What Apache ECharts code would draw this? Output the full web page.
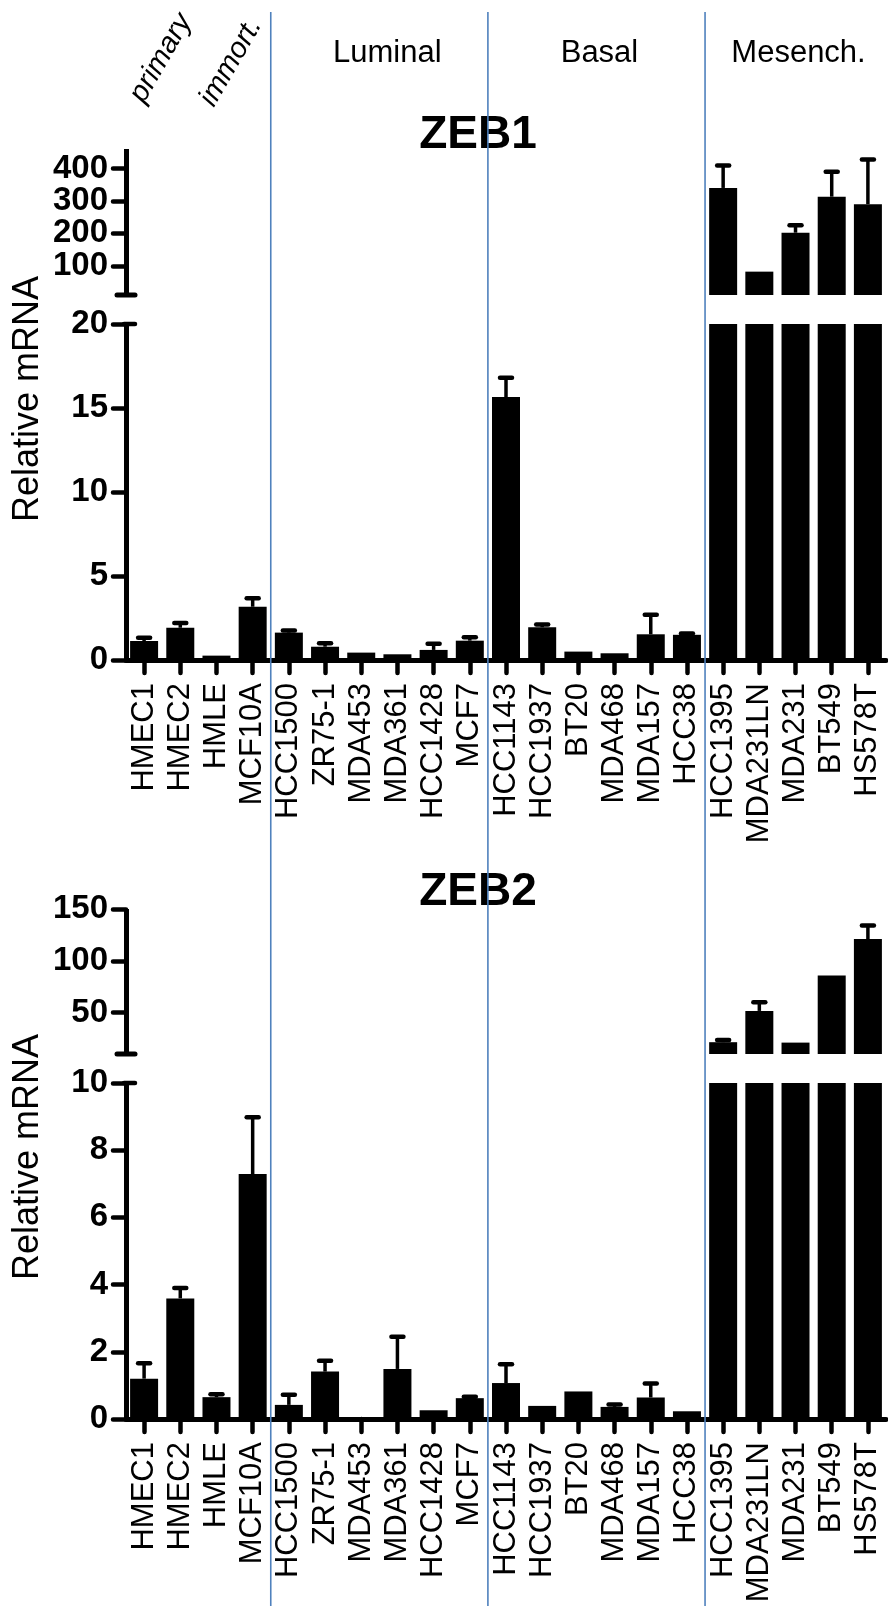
<!DOCTYPE html>
<html>
<head>
<meta charset="utf-8">
<script src="https://cdn.jsdelivr.net/npm/echarts@6/dist/echarts.min.js"></script>
<style>
html,body{margin:0;padding:0;background:#fff;}
#c{width:888px;height:1606px;}
</style>
</head>
<body>
<div id="c"></div>
<script>
// ---- data ----
const categories = ['HMEC1','HMEC2','HMLE','MCF10A','HCC1500','ZR75-1','MDA453','MDA361','HCC1428','MCF7','HCC1143','HCC1937','BT20','MDA468','MDA157','HCC38','HCC1395','MDA231LN','MDA231','BT549','HS578T'];
const zeb1Mean  = [1.13, 1.92, 0.26, 3.17, 1.63, 0.79, 0.44, 0.34, 0.60, 1.15, 15.65, 1.95, 0.50, 0.40, 1.53, 1.50, 340, 82, 202, 313, 290];
const zeb1Upper = [1.33, 2.20, 0.28, 3.68, 1.76, 1.00, 0.48, 0.36, 0.97, 1.36, 16.80, 2.12, 0.52, 0.42, 2.70, 1.58, 409, 84, 225, 390, 428];
const zeb2Mean  = [1.20, 3.59, 0.65, 7.29, 0.42, 1.41, 0.05, 1.49, 0.26, 0.62, 1.07, 0.39, 0.82, 0.36, 0.64, 0.23, 21.4, 51.6, 21.0, 85.8, 121];
const zeb2Upper = [1.66, 3.90, 0.74, 8.98, 0.72, 1.73, 0.06, 2.45, 0.28, 0.66, 1.63, 0.41, 0.84, 0.43, 1.06, 0.24, 23.6, 60.0, 21.5, 86.0, 134];
const groupNames = ['Luminal','Basal','Mesench.'];
const subNames = ['primary','immort.'];
// ZEB1 upper ticks are split over two overlaid axes so the tightly packed labels are all kept
const zeb1UpperTicksA = [100, 300];
const zeb1UpperTicksB = [200, 400];
const zeb1LowerTicks = [0, 5, 10, 15, 20];
const zeb2UpperTicks = [50, 100, 150];
const zeb2LowerTicks = [0, 2, 4, 6, 8, 10];
const axisBreak = {zeb1: 20, zeb2: 10};

// ---- styling ----
const NARROW = "'Liberation Sans Narrow','Arial Narrow','Liberation Sans',Arial,sans-serif";
const SANS = "'Liberation Sans',Arial,Helvetica,sans-serif";
const GL = 126, GW = 760;

function xAx(gi, show) {
  return {
    type: 'category', gridIndex: gi, data: categories, show: show,
    axisLine: {show: show, lineStyle: {color: '#000', width: 5}},
    axisTick: {show: show, alignWithLabel: true, interval: 0, length: 13, lineStyle: {color: '#000', width: 4.5, cap: 'round'}},
    axisLabel: {show: show, interval: 0, rotate: 90, margin: 23, fontFamily: SANS, fontSize: 31, color: '#000', hideOverlap: false}
  };
}
function yAx(gi, min, max, ticks, showLine) {
  return {
    type: 'value', gridIndex: gi, min: min, max: max,
    axisLine: {show: showLine !== false, lineStyle: {color: '#000', width: 5, cap: 'butt'}},
    axisTick: {show: true, length: 13, customValues: ticks, lineStyle: {color: '#000', width: 4.5, cap: 'round'}},
    axisLabel: {show: true, customValues: ticks, hideOverlap: false, showMinLabel: true, showMaxLabel: true,
                margin: 18, fontFamily: NARROW, fontWeight: 'bold', fontSize: 33, color: '#000'},
    splitLine: {show: false}
  };
}
function barSeries(gi, data) {
  return {type: 'bar', xAxisIndex: gi, yAxisIndex: gi, data: data, barWidth: 28, clip: true,
          itemStyle: {color: '#000'}, silent: true};
}
function errSeries(gi, mean, upper, lo, hi) {
  return {
    type: 'custom', xAxisIndex: gi, yAxisIndex: gi, silent: true, z: 3,
    data: mean.map((m, i) => [i, m, upper[i]]),
    renderItem: function (params, api) {
      const i = api.value(0), m = api.value(1), u = api.value(2);
      if (!(m > lo && u <= hi)) return null;
      const p0 = api.coord([i, m]), p1 = api.coord([i, u]);
      if (p0[1] - p1[1] < 1) return null;
      return {type: 'group', children: [
        {type: 'line', shape: {x1: p0[0], y1: p0[1], x2: p1[0], y2: p1[1]}, style: {stroke: '#000', lineWidth: 3.5}},
        {type: 'line', shape: {x1: p1[0] - 6, y1: p1[1], x2: p1[0] + 6, y2: p1[1]}, style: {stroke: '#000', lineWidth: 4.5, lineCap: 'round'}}
      ]};
    }
  };
}
// upper (broken) panels only show the values above the break
const aboveBreak = (arr, b) => arr.map(v => (v > b ? v : null));

const grids = [
  {left: GL, top: 149, width: GW, height: 146},
  {left: GL, top: 324, width: GW, height: 336},
  {left: GL, top: 909, width: GW, height: 145},
  {left: GL, top: 1083, width: GW, height: 336}
];

const chart = echarts.init(document.getElementById('c'), null, {renderer: 'canvas'});
const option = {
  animation: false,
  backgroundColor: '#fff',
  grid: grids,
  xAxis: [xAx(0, false), xAx(1, true), xAx(2, false), xAx(3, true)],
  yAxis: [
    yAx(0, 10, 460, zeb1UpperTicksA),
    yAx(1, 0, 20, zeb1LowerTicks),
    yAx(2, 10, 150, zeb2UpperTicks),
    yAx(3, 0, 10, zeb2LowerTicks),
    yAx(0, 10, 460, zeb1UpperTicksB, false)
  ],
  series: [
    barSeries(0, aboveBreak(zeb1Mean, axisBreak.zeb1)), barSeries(1, zeb1Mean),
    barSeries(2, aboveBreak(zeb2Mean, axisBreak.zeb2)), barSeries(3, zeb2Mean),
    errSeries(0, zeb1Mean, zeb1Upper, axisBreak.zeb1, 460),
    errSeries(1, zeb1Mean, zeb1Upper, -1, axisBreak.zeb1),
    errSeries(2, zeb2Mean, zeb2Upper, axisBreak.zeb2, 150),
    errSeries(3, zeb2Mean, zeb2Upper, -1, axisBreak.zeb2)
  ]
};
// the second ZEB1-upper axis sits on the same (left) side as the first
option.yAxis[4].position = 'left';
option.yAxis[4].offset = 0;
option.yAxis[0].position = 'left';
chart.setOption(option);

// graphic overlays (separators, titles, headers, break caps)
const cx = i => chart.convertToPixel({xAxisIndex: 1}, categories[i]);
const sepX = [ (cx(3) + cx(4)) / 2, (cx(9) + cx(10)) / 2, (cx(15) + cx(16)) / 2 ];
const g = [];
sepX.forEach(x => g.push({type: 'line', z: 100, shape: {x1: x, y1: 12, x2: x, y2: 1606}, style: {stroke: '#4F81BD', lineWidth: 1.6}}));
// break caps
[295, 1054].forEach(y => g.push({type: 'line', z: 50, shape: {x1: 117, y1: y, x2: 135, y2: y}, style: {stroke: '#000', lineWidth: 5, lineCap: 'round'}}));
[324, 1083].forEach(y => g.push({type: 'line', z: 50, shape: {x1: 124, y1: y, x2: 135, y2: y}, style: {stroke: '#000', lineWidth: 4.5, lineCap: 'round'}}));
// titles
[['ZEB1', 135], ['ZEB2', 892]].forEach(t => g.push({type: 'text', z: 10, x: 478, y: t[1],
  style: {text: t[0], font: "bold 46px " + SANS, fill: '#000', align: 'center', verticalAlign: 'middle'}}));
// y axis titles
[399, 1157].forEach(y => g.push({type: 'text', z: 10, x: 28, y: y, rotation: Math.PI / 2,
  style: {text: 'Relative mRNA', font: "36px " + SANS, fill: '#000', align: 'center', verticalAlign: 'middle'}}));
// group headers
const hx = [ (cx(4) + cx(9)) / 2 + 8, (cx(10) + cx(15)) / 2 + 3, (cx(16) + cx(20)) / 2 + 3 ];
groupNames.forEach((n, k) => g.push({type: 'text', z: 10, x: hx[k], y: 53,
  style: {text: n, font: "31px " + SANS, fill: '#000', align: 'center', verticalAlign: 'middle'}}));
// sub headers (rotated italic)
[[161, 58], [231, 62]].forEach((p, k) => g.push({type: 'text', z: 10, x: p[0], y: p[1], rotation: 60 * Math.PI / 180,
  style: {text: subNames[k], font: "italic 29px " + SANS, fill: '#000', align: 'center', verticalAlign: 'middle'}}));
chart.setOption({graphic: g});
</script>
</body>
</html>
